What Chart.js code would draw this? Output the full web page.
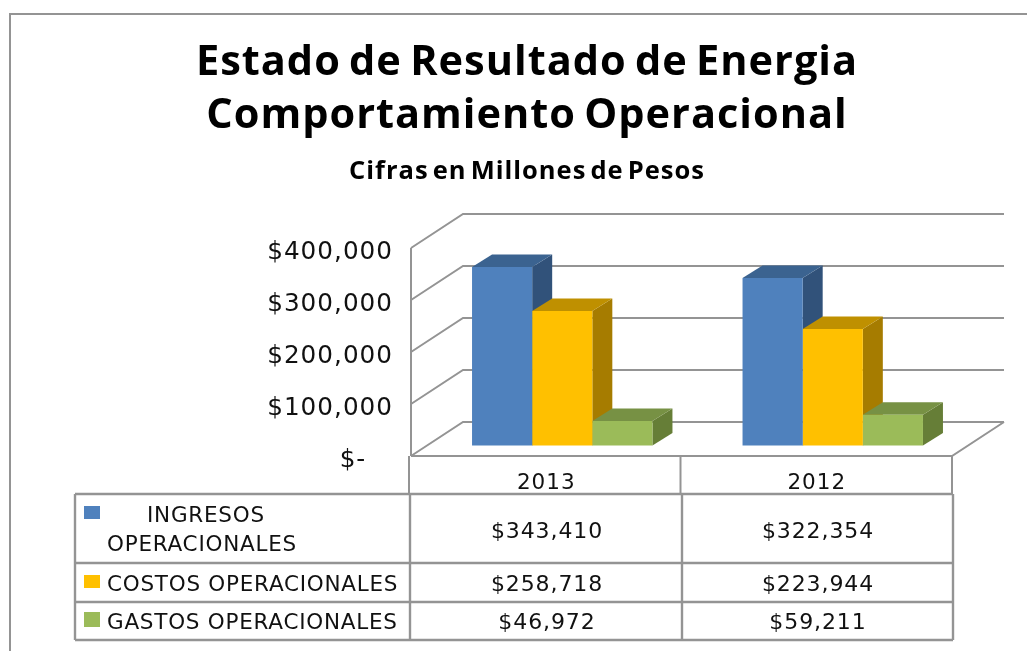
<!DOCTYPE html>
<html><head><meta charset="utf-8">
<style>html,body{margin:0;padding:0;background:#fff;overflow:hidden}#w{width:1027px;height:651px;position:relative}</style>
<script src="https://cdn.jsdelivr.net/npm/chart.js@4"></script></head>
<body><div id="w"><canvas id="c" width="1027" height="651"></canvas></div>
<script>
const titleLines = ['Estado de Resultado de Energia', 'Comportamiento Operacional'];
const subtitleText = 'Cifras en Millones de Pesos';
const categories = ['2013', '2012'];
const ingresos = [343410, 322354];
const costos = [258718, 223944];
const gastos = [46972, 59211];
const seriesNames = ['INGRESOS OPERACIONALES', 'COSTOS OPERACIONALES', 'GASTOS OPERACIONALES'];
const frontColors = ['#4F81BD', '#FFC000', '#9BBB59'];
const topColors = ['#3B6390', '#BF9000', '#779144'];
const sideColors = ['#31527A', '#A67C00', '#667E37'];
const yTicks = [0, 100000, 200000, 300000, 400000];

const TITLE_FONT = '"Open Sans"';
const FONT = '"DejaVu Sans"';
const LINE = '#949494';
const money = v => '$' + v.toLocaleString('en-US');

const wallDepth = {dx: 52, dy: -34};
const barShift = {dx: 16, dy: -10.5};
const barDepth = {dx: 20, dy: -12.5};

function seg(ctx, pts) {
  ctx.beginPath();
  pts.forEach((p, i) => i ? ctx.lineTo(p[0], p[1]) : ctx.moveTo(p[0], p[1]));
  ctx.stroke();
}
function poly(ctx, pts, color) {
  ctx.fillStyle = color;
  ctx.beginPath();
  pts.forEach((p, i) => i ? ctx.lineTo(p[0], p[1]) : ctx.moveTo(p[0], p[1]));
  ctx.closePath();
  ctx.fill();
}

const threeD = {
  id: 'threeD',
  beforeDraw(chart) {
    chart.ctx.letterSpacing = '1px';
    chart.ctx.wordSpacing = '-3.5px';
  },
  beforeDatasetsDraw(chart) {
    const {ctx} = chart, y = chart.scales.y, a = chart.chartArea;
    ctx.save();
    ctx.strokeStyle = LINE;
    ctx.lineWidth = 2;
    yTicks.forEach(v => {
      const py = y.getPixelForValue(v);
      seg(ctx, [[a.left, py], [a.left + wallDepth.dx, py + wallDepth.dy], [a.right + wallDepth.dx, py + wallDepth.dy]]);
    });
    const py0 = y.getPixelForValue(0);
    seg(ctx, [[a.left, y.getPixelForValue(400000)], [a.left, py0]]);
    seg(ctx, [[a.left, py0], [a.right, py0], [a.right + wallDepth.dx, py0 + wallDepth.dy]]);
    // side and top faces, back to front
    [0, 1, 2].forEach(d => {
      chart.getDatasetMeta(d).data.forEach(b => {
        const l = b.x - b.width / 2 + barShift.dx, r = b.x + b.width / 2 + barShift.dx;
        const t = b.y + barShift.dy, bo = b.base + barShift.dy;
        const ox = barDepth.dx, oy = barDepth.dy;
        poly(ctx, [[r, t], [r + ox, t + oy], [r + ox, bo + oy], [r, bo]], sideColors[d]);
        poly(ctx, [[l, t], [l + ox, t + oy], [r + ox, t + oy], [r, t]], topColors[d]);
      });
    });
    ctx.restore();
    ctx.save();
    ctx.translate(barShift.dx, barShift.dy);
  },
  afterDatasetsDraw(chart) {
    chart.ctx.restore();
  },
  afterDraw(chart) {
    const {ctx} = chart, a = chart.chartArea, x = chart.scales.x;
    ctx.save();
    ctx.strokeStyle = LINE;
    // outer frame
    ctx.lineWidth = 2;
    seg(ctx, [[10, 651], [10, 14], [1027, 14]]);
    // category row
    const catTop = a.bottom, catBot = 494;
    const mid = (x.getPixelForValue(0) + x.getPixelForValue(1)) / 2 - 1;
    seg(ctx, [[a.left - 2, catTop], [a.left - 2, catBot]]);
    seg(ctx, [[mid, catTop], [mid, catBot]]);
    seg(ctx, [[a.right, catTop], [a.right, catBot]]);
    // data table
    const cols = [75, 410, 682, 953], rows = [494, 563, 602, 640];
    ctx.lineWidth = 2.4;
    rows.forEach(r => seg(ctx, [[cols[0], r], [cols[3], r]]));
    cols.forEach(c => seg(ctx, [[c, rows[0]], [c, rows[3]]]));
    const swatches = [[506, 13], [575, 13], [612, 15]];
    swatches.forEach((s, i) => { ctx.fillStyle = frontColors[i]; ctx.fillRect(84, s[0], 16, s[1]); });
    ctx.fillStyle = '#111';
    ctx.font = '21.5px ' + FONT;
    ctx.textBaseline = 'middle';
    ctx.textAlign = 'left';
    ctx.letterSpacing = '0.75px';
    ctx.wordSpacing = '0px';
    const w = seriesNames[0].split(' ');
    ctx.fillText(w[0], 147, 516);
    ctx.fillText(w[1], 107, 545);
    ctx.fillText(seriesNames[1], 107, 585);
    ctx.fillText(seriesNames[2], 107, 623);
    ctx.textAlign = 'center';
    ctx.font = '22px ' + FONT;
    ctx.letterSpacing = '0.9px';
    const rowY = [532, 585, 623];
    [ingresos, costos, gastos].forEach((s, i) => {
      ctx.fillText(money(s[0]), 547, rowY[i]);
      ctx.fillText(money(s[1]), 818, rowY[i]);
    });
    ctx.restore();
  }
};

new Chart(document.getElementById('c'), {
  type: 'bar',
  data: {
    labels: categories,
    datasets: [
      {label: seriesNames[0], data: ingresos, backgroundColor: frontColors[0]},
      {label: seriesNames[1], data: costos, backgroundColor: frontColors[1]},
      {label: seriesNames[2], data: gastos, backgroundColor: frontColors[2]}
    ]
  },
  options: {
    responsive: false,
    animation: false,
    layout: {padding: {left: 102, right: 75, top: 37, bottom: 157}},
    datasets: {bar: {categoryPercentage: 0.667, barPercentage: 1, borderWidth: 0, clip: false}},
    plugins: {
      legend: {display: false},
      tooltip: {enabled: false},
      title: {display: true, text: titleLines, color: '#000', font: {family: TITLE_FONT, size: 41.5, weight: 'bold', lineHeight: 53 / 41.5}, padding: {top: 0, bottom: 13}},
      subtitle: {display: true, text: subtitleText, color: '#000', font: {family: TITLE_FONT, size: 25.5, weight: 'bold', lineHeight: 1.2}, padding: {top: 0, bottom: 61.4}}
    },
    scales: {
      x: {
        grid: {display: false, drawTicks: false},
        border: {display: false},
        ticks: {color: '#111', font: {family: FONT, size: 21.5}, padding: 15},
        afterFit(s) { s.height = 38; }
      },
      y: {
        min: 0, max: 400000,
        grid: {display: false, drawTicks: false},
        border: {display: false},
        ticks: {
          stepSize: 100000,
          color: '#111',
          font: {family: FONT, size: 24.7},
          padding: 18,
          labelOffset: 5,
          callback: v => v === 0 ? '$-\u00A0\u00A0\u00A0\u00A0\u00A0' : money(v)
        },
        afterFit(s) { s.width = 309; }
      }
    }
  },
  plugins: [threeD]
});
</script></body></html>
